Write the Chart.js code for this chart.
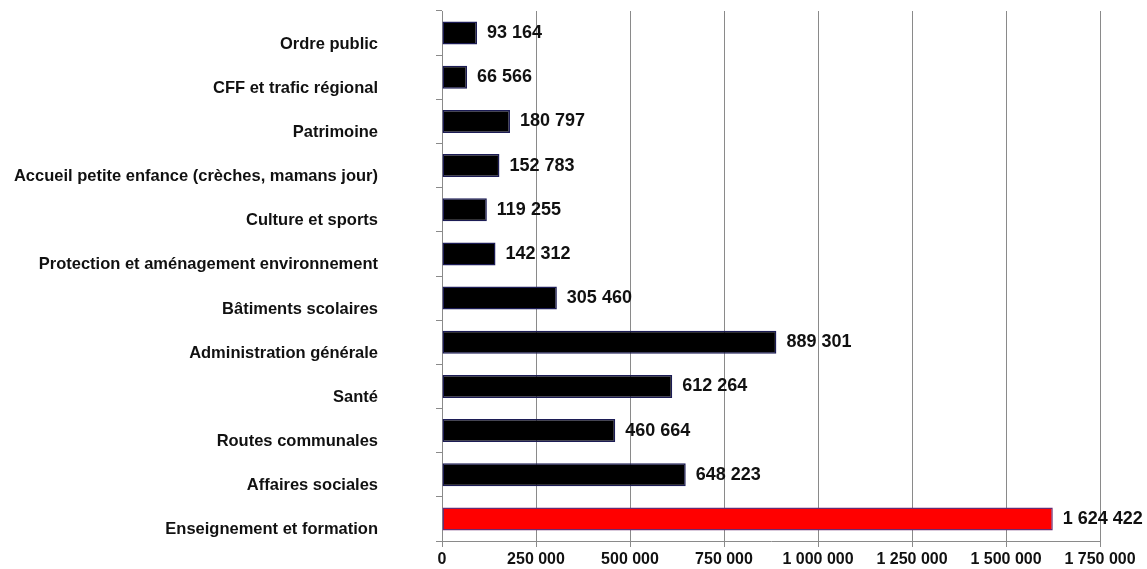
<!DOCTYPE html>
<html>
<head>
<meta charset="utf-8">
<script src="https://cdn.jsdelivr.net/npm/chart.js@4/dist/chart.umd.min.js"></script>
<style>
html,body{margin:0;padding:0;background:#fff;}
#wrap{width:1147px;height:569px;position:relative;}
</style>
</head>
<body>
<div id="wrap"><canvas id="c" width="1147" height="569"></canvas></div>
<script>
const categories = [
  "Ordre public",
  "CFF et trafic régional",
  "Patrimoine",
  "Accueil petite enfance (crèches, mamans jour)",
  "Culture et sports",
  "Protection et aménagement environnement",
  "Bâtiments scolaires",
  "Administration générale",
  "Santé",
  "Routes communales",
  "Affaires sociales",
  "Enseignement et formation"
];
const values = [93164, 66566, 180797, 152783, 119255, 142312, 305460, 889301, 612264, 460664, 648223, 1624422];
const highlight = [false, false, false, false, false, false, false, false, false, false, false, true];
const xTicks = [0, 250000, 500000, 750000, 1000000, 1250000, 1500000, 1750000];

const fmt = v => String(Math.round(v)).replace(/\B(?=(\d{3})+(?!\d))/g, ' ');

const fills = highlight.map(h => h ? '#ff0000' : '#000000');
const borders = highlight.map(h => h ? '#6a2a70' : '#1c1c55');

const valueLabels = {
  id: 'valueLabels',
  afterDatasetsDraw(chart) {
    const ctx = chart.ctx;
    const meta = chart.getDatasetMeta(0);
    ctx.save();
    ctx.font = 'bold 18px "Liberation Sans", Arial, sans-serif';
    ctx.fillStyle = '#111';
    ctx.textAlign = 'left';
    ctx.textBaseline = 'middle';
    meta.data.forEach((el, i) => {
      ctx.fillText(fmt(values[i]), el.x + 10, el.y);
    });
    ctx.restore();
  }
};

new Chart(document.getElementById('c'), {
  type: 'bar',
  data: {
    labels: categories,
    datasets: [{
      data: values,
      backgroundColor: fills,
      borderColor: borders,
      borderWidth: 1.5,
      borderSkipped: false,
      barPercentage: 0.52,
      categoryPercentage: 1.0
    }]
  },
  options: {
    indexAxis: 'y',
    responsive: false,
    animation: false,
    layout: { padding: { top: 11, right: 47, bottom: 0, left: 0 } },
    plugins: { legend: { display: false }, tooltip: { enabled: false } },
    scales: {
      x: {
        min: 0,
        max: 1750000,
        afterBuildTicks(scale) { scale.ticks = xTicks.map(v => ({ value: v })); },
        ticks: {
          callback: v => fmt(v),
          font: { family: '"Liberation Sans", Arial, sans-serif', size: 16, weight: 'bold' },
          color: '#111',
          padding: 3,
          maxRotation: 0,
          autoSkip: false
        },
        grid: { color: '#8a8a8a', lineWidth: 1, tickLength: 6, drawOnChartArea: true },
        border: { color: '#8a8a8a', width: 1 },
        afterFit(scale) { scale.height = 28; scale.paddingLeft = 0; scale.paddingRight = 0; }
      },
      y: {
        ticks: {
          font: { family: '"Liberation Sans", Arial, sans-serif', size: 16.5, weight: 'bold' },
          color: '#111',
          padding: 58,
          labelOffset: 11,
          autoSkip: false
        },
        grid: { offset: true, drawOnChartArea: false, tickLength: 6, color: '#8a8a8a' },
        border: { color: '#8a8a8a', width: 1 },
        afterFit(scale) { scale.width = 442; scale.paddingTop = 0; scale.paddingBottom = 0; }
      }
    }
  },
  plugins: [valueLabels]
});
</script>
</body>
</html>
